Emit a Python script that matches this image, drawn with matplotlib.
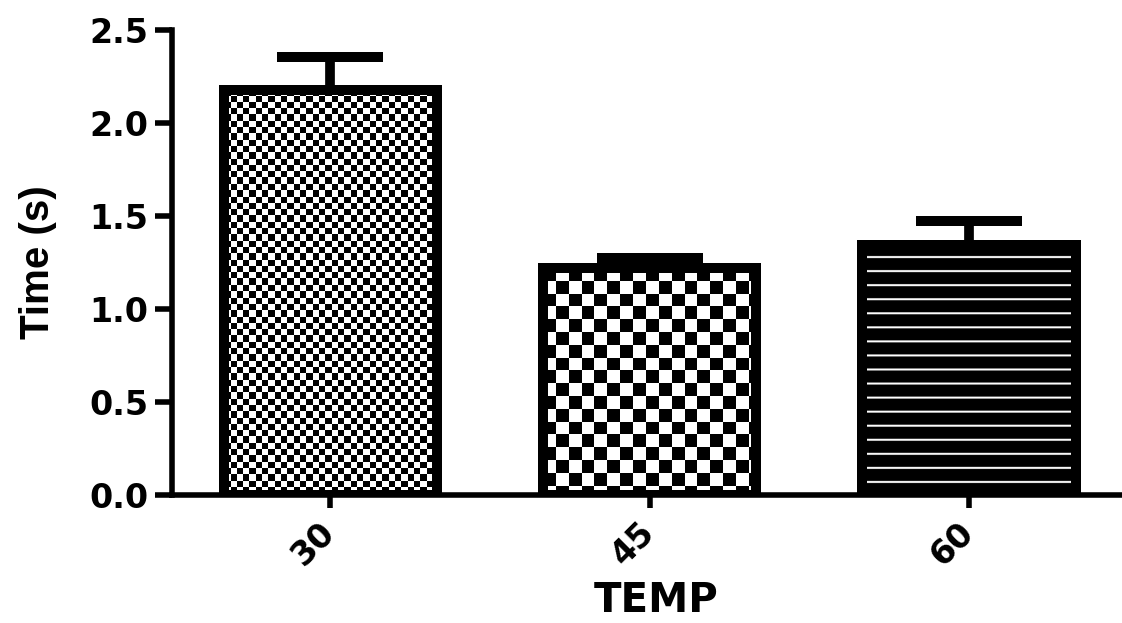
import numpy as np
import matplotlib
matplotlib.use('Agg')
import matplotlib.pyplot as plt

# ---- data ----
categories = ['30', '45', '60']
means = [2.18, 1.22, 1.345]
err_upper = [0.175, 0.055, 0.13]
yticks = [0.0, 0.5, 1.0, 1.5, 2.0, 2.5]
ytick_labels = ['0.0', '0.5', '1.0', '1.5', '2.0', '2.5']
xlabel = 'TEMP'
ylabel = 'Time (s)'

plt.rcParams['font.family'] = ['DejaVu Sans']

W, H = 1122, 623
fig = plt.figure(figsize=(W / 100, H / 100), dpi=100)
ax = fig.add_axes([172 / W, 1 - 495 / H, (W - 172) / W, (495 - 30) / H])

x = np.arange(len(categories))
ax.set_xlim(-0.495, 2.479)
ax.set_ylim(0, 2.5)

bars = ax.bar(x, means, width=0.667, facecolor='none', edgecolor='black',
              linewidth=7.2, zorder=3)
for b in bars:
    b.set_joinstyle('miter')

SS = 4  # supersampling factor for the fill patterns


def pattern(kind, hpx, wpx):
    i = (np.arange(hpx * SS) / SS)[:, None]
    j = (np.arange(wpx * SS) / SS)[None, :]
    if kind == 'fine':
        c = 6.3
        return ((np.floor(i / c) + np.floor(j / c)) % 2).astype(float)
    if kind == 'coarse':
        c = 12.8
        return ((np.floor(i / c) + np.floor(j / c)) % 2).astype(float)
    # black with white horizontal lines
    arr = np.zeros((hpx * SS, wpx * SS))
    rows = ((i[:, 0] - 12) % 14) < 2
    arr[rows, :] = 1.0
    return arr


kinds = ['fine', 'coarse', 'lines']
interps = ['nearest', 'nearest', 'antialiased']
for b, kind, interp in zip(bars, kinds, interps):
    x0, y0, w, h = b.get_x(), b.get_y(), b.get_width(), b.get_height()
    p0 = ax.transData.transform((x0, y0))
    p1 = ax.transData.transform((x0 + w, y0 + h))
    wpx = int(round(abs(p1[0] - p0[0])))
    hpx = int(round(abs(p1[1] - p0[1])))
    arr = pattern(kind, hpx, wpx)
    im = ax.imshow(arr, extent=(x0, x0 + w, y0, y0 + h), cmap='gray',
                   vmin=0, vmax=1, interpolation=interp, aspect='auto',
                   origin='upper', zorder=2)
    im.set_clip_path(b)

ax.errorbar(x, means, yerr=[np.zeros(len(means)), err_upper], fmt='none',
            ecolor='black', elinewidth=7, capsize=38, capthick=7.2, zorder=4)

ax.set_xlim(-0.495, 2.479)
ax.set_ylim(0, 2.5)

for s in ['top', 'right']:
    ax.spines[s].set_visible(False)
for s in ['left', 'bottom']:
    ax.spines[s].set_linewidth(4)
    ax.spines[s].set_capstyle('projecting')

ax.set_yticks(yticks, ytick_labels)
ax.set_xticks(x, categories)
ax.tick_params(axis='y', length=12, width=4, direction='out', pad=5,
               labelsize=24)
ax.tick_params(axis='x', length=9.5, width=4, direction='out', pad=14,
               labelsize=24)
for lab in ax.get_yticklabels():
    lab.set_fontweight('bold')
for lab in ax.get_xticklabels():
    lab.set_fontweight('bold')
    lab.set_rotation(45)
    lab.set_ha('right')
    lab.set_va('center')
    lab.set_rotation_mode('anchor')

ax.set_xlabel(xlabel, fontsize=29, fontweight='bold', va='baseline')
ax.xaxis.set_label_coords(0.51, (495 - 612) / 465)
ax.set_ylabel(ylabel, fontsize=29, fontweight='bold',
              family=['Liberation Sans', 'DejaVu Sans'], va='center')
ax.yaxis.set_label_coords((38 - 172) / 950, 0.5)

fig.savefig('out.png', dpi=100)
